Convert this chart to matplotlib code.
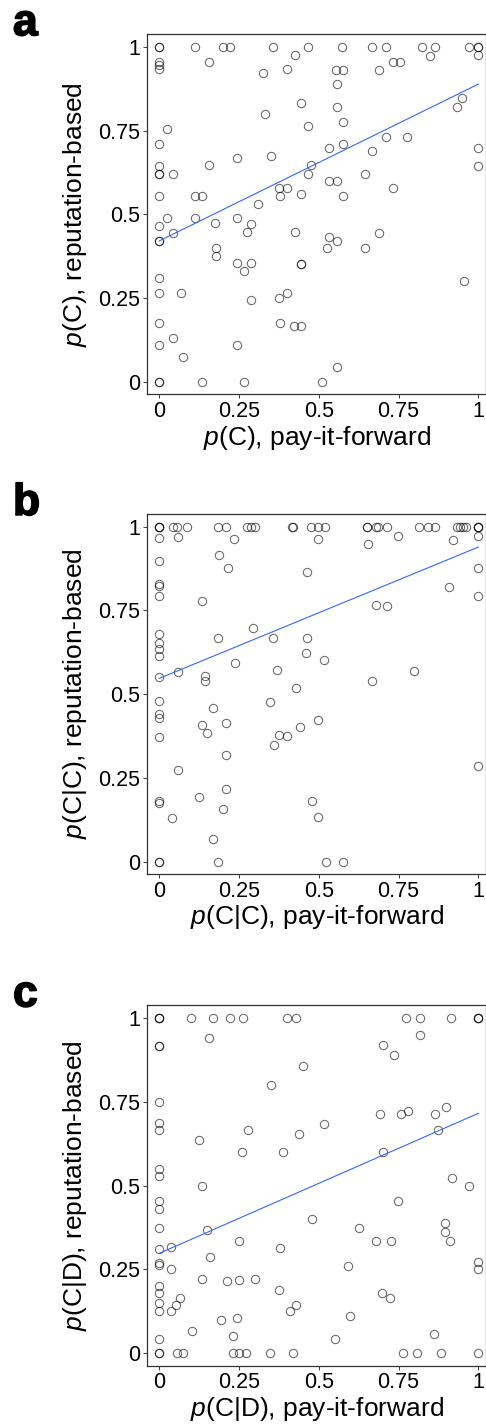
## Three scatter panels: reputation-based vs pay-it-forward cooperation
import matplotlib
matplotlib.use('Agg')
import matplotlib.pyplot as plt
import matplotlib.patheffects as pe

plt.rcParams['font.family'] = ['Liberation Sans', 'DejaVu Sans']
plt.rcParams['mathtext.fontset'] = 'custom'
plt.rcParams['mathtext.it'] = 'Liberation Sans:italic'
plt.rcParams['mathtext.rm'] = 'Liberation Sans'

# panel a: p(C)
a_x = [0, 0, 0.112, 0.199, 0.222, 0.355, 0.467, 0.574, 0.667, 0.710, 0.822, 0.865, 0.972, 1, 1,
       0.425, 0.850, 1,
       0, 0, 0, 0.156, 0.325, 0.399, 0.553, 0.577, 0.689, 0.734, 0.755,
       0.556, 0.444, 0.556, 0.332, 0.577, 0.467, 0.932, 0.949,
       0.023, 0, 0.710, 0.776, 0.533, 0.577, 0.667, 1, 0.243, 0.350,
       0, 0, 0, 0.044, 0.156, 0.474, 0.467, 1, 0.645,
       0.533, 0.556, 0.376, 0.399, 0.734,
       0, 0.112, 0.133, 0.378, 0.444, 0.577, 0.310,
       0, 0.023, 0.112, 0.044, 0, 0, 0.176, 0.243, 0.289, 0.274, 0.424, 0.533, 0.556, 0.689,
       0.178, 0.178, 0.525, 0.645, 0.243, 0.266, 0.289, 0.444, 0.444,
       0, 0, 0.067, 0.955, 0.374, 0.400, 0.289,
       0, 0.378, 0.422, 0.444, 0.044, 0, 0.243, 0.075, 0.556,
       0, 0, 0.133, 0.266, 0.511]
a_y = [1, 1, 1, 1, 1, 1, 1, 1, 1, 1, 1, 1, 1, 1, 1,
       0.977, 0.973, 0.975,
       0.955, 0.945, 0.935, 0.954, 0.922, 0.935, 0.930, 0.930, 0.932, 0.954, 0.954,
       0.889, 0.832, 0.821, 0.799, 0.777, 0.763, 0.821, 0.849,
       0.754, 0.709, 0.732, 0.732, 0.699, 0.709, 0.689, 0.699, 0.667, 0.675,
       0.644, 0.622, 0.622, 0.622, 0.647, 0.649, 0.622, 0.644, 0.622,
       0.599, 0.599, 0.578, 0.578, 0.578,
       0.555, 0.555, 0.555, 0.555, 0.562, 0.555, 0.532,
       0.466, 0.488, 0.488, 0.444, 0.421, 0.421, 0.475, 0.488, 0.470, 0.449, 0.449, 0.433, 0.421, 0.444,
       0.399, 0.377, 0.399, 0.399, 0.355, 0.332, 0.355, 0.353, 0.353,
       0.310, 0.266, 0.266, 0.300, 0.250, 0.266, 0.244,
       0.177, 0.177, 0.166, 0.166, 0.132, 0.111, 0.111, 0.075, 0.045,
       0, 0, 0, 0, 0]

# panel b: p(C|C)
b_x = [0, 0, 0, 0.044, 0.054, 0.088, 0.185, 0.209, 0.276, 0.286, 0.300, 0.417, 0.420, 0.477, 0.498,
       0.519, 0.650, 0.650, 0.679, 0.687, 0.713, 0.815, 0.841, 0.864, 0.932, 0.943, 0.953, 0.961, 1, 1, 1,
       0, 0.060, 0.235, 0.499, 0.653, 0.749, 0.922, 1,
       0, 0.187, 0.216, 0.462, 1,
       0, 0, 0, 0.133, 0.908, 1, 0.679, 0.713,
       0, 0, 0, 0, 0.185, 0.295, 0.357, 0.462, 0.459, 0.238, 0.369, 0.516, 0.799,
       0, 0.060, 0.143, 0.143, 0.668, 0.427,
       0, 0.348, 0, 0, 0.167, 0.133, 0.150, 0.208, 0.499, 0.440, 0.375, 0.400, 0.359, 0,
       0.208, 0.060, 0.999, 0.208, 0, 0, 0.125, 0.201, 0.478, 0.499, 0.039, 0.167,
       0, 0, 0.185, 0.522, 0.577]
b_y = [1, 1, 1, 1, 1, 1, 1, 1, 1, 1, 1, 1, 1, 1, 1,
       1, 1, 1, 1, 1, 1, 1, 1, 1, 1, 1, 1, 1, 1, 1, 1,
       0.965, 0.969, 0.962, 0.962, 0.949, 0.971, 0.959, 0.971,
       0.897, 0.914, 0.876, 0.864, 0.876,
       0.828, 0.823, 0.793, 0.779, 0.820, 0.793, 0.767, 0.763,
       0.680, 0.653, 0.636, 0.613, 0.667, 0.697, 0.667, 0.667, 0.622, 0.593, 0.572, 0.601, 0.568,
       0.552, 0.566, 0.555, 0.540, 0.539, 0.519,
       0.479, 0.477, 0.441, 0.429, 0.458, 0.408, 0.385, 0.414, 0.424, 0.401, 0.379, 0.376, 0.348, 0.371,
       0.318, 0.272, 0.286, 0.218, 0.181, 0.176, 0.192, 0.158, 0.181, 0.133, 0.130, 0.067,
       0, 0, 0, 0, 0]

# panel c: p(C|D)
c_x = [0, 0, 0, 0.099, 0.167, 0.222, 0.263, 0.399, 0.428, 0.773, 0.817, 0.914, 1, 1, 1,
       0, 0, 0.157, 0.702, 0.817, 0.735, 0.450, 0.350,
       0, 0, 0, 0.279, 0.125, 0.438, 0.516, 0.692, 0.758, 0.781, 0.865, 0.899, 0.875,
       0.260, 0.387, 0.700,
       0, 0, 0.133, 0.918, 0.970, 0, 0, 0.749, 0, 0.150, 0.480, 0.625, 0.896, 0.896, 0.912, 0.679, 0.727, 0.250,
       0, 0.038, 0.379, 0.158, 0, 0, 0.038, 1, 1, 0.590,
       0.133, 0.213, 0.250, 0.300, 0.375, 0, 0, 0.699, 0.722, 0.065, 0.053, 0, 0, 0.036, 0.410, 0.429,
       0.599, 0.192, 0.242, 0.102, 0.231, 0, 0.550, 0.862,
       0, 0, 0.054, 0.073, 0.230, 0.251, 0.272, 0.347, 0.420, 0.765, 0.807, 0.884, 1]
c_y = [1, 1, 1, 1, 1, 1, 1, 1, 1, 1, 1, 1, 1, 1, 1,
       0.916, 0.916, 0.941, 0.920, 0.951, 0.889, 0.857, 0.801,
       0.750, 0.688, 0.666, 0.666, 0.636, 0.654, 0.685, 0.714, 0.714, 0.723, 0.714, 0.734, 0.666,
       0.600, 0.600, 0.600,
       0.549, 0.528, 0.500, 0.524, 0.500, 0.455, 0.429, 0.455, 0.375, 0.368, 0.400, 0.375, 0.389, 0.363,
       0.334, 0.334, 0.334, 0.334,
       0.312, 0.317, 0.315, 0.286, 0.269, 0.262, 0.250, 0.272, 0.250, 0.260,
       0.222, 0.214, 0.217, 0.222, 0.190, 0.200, 0.181, 0.181, 0.166, 0.166, 0.143, 0.150, 0.125, 0.125,
       0.125, 0.143, 0.112, 0.100, 0.106, 0.066, 0.050, 0.043, 0.043, 0.056,
       0, 0, 0, 0, 0, 0, 0, 0, 0, 0, 0, 0, 0]

# fitted regression lines (value at x=0 and at x=1)
fit_at_0 = [0.421, 0.547, 0.298]
fit_at_1 = [0.889, 0.939, 0.716]

ticks = [0, 0.25, 0.5, 0.75, 1]
tick_labels = ['0', '0.25', '0.5', '0.75', '1']
letters = ['a', 'b', 'c']
cond = ['C', 'C|C', 'C|D']

panels = [(a_x, a_y), (b_x, b_y), (c_x, c_y)]
bottoms = [0.7235, 0.3871, 0.0424]

fig = plt.figure(figsize=(4.86, 14.26), dpi=100)

for i, (xs, ys) in enumerate(panels):
    assert len(xs) == len(ys)
    ax = fig.add_axes([0.3031, bottoms[i], 0.6969, 0.2525])
    ax.plot(xs, ys, 'o', markersize=6, markerfacecolor='none',
            markeredgecolor=(0, 0, 0, 0.6), markeredgewidth=0.75, clip_on=False)

    ax.plot([0, 1], [fit_at_0[i], fit_at_1[i]], color='#3366FF', lw=0.8)

    ax.set_xlim(-0.0376, 1.0241)
    ax.set_ylim(-0.037, 1.038)
    ax.set_xticks(ticks)
    ax.set_xticklabels(tick_labels)
    ax.set_yticks(ticks)
    ax.set_yticklabels(tick_labels)
    ax.tick_params(labelsize=15.5, length=3, width=0.75, color='#444444', pad=2)
    for s in ax.spines.values():
        s.set_color('#333333')
        s.set_linewidth(0.9)

    ax.set_xlabel('$p$(%s), pay-it-forward' % cond[i], fontsize=19, labelpad=1)
    ax.set_ylabel('$p$(%s), reputation-based' % cond[i], fontsize=19, labelpad=7)

    top = bottoms[i] + 0.2525
    fig.text(13 / 486, top - 1 / 1426, letters[i], fontsize=32, fontweight='bold',
             va='baseline', ha='left',
             path_effects=[pe.withStroke(linewidth=1.2, foreground='black')])

fig.savefig('out.png', dpi=100)
